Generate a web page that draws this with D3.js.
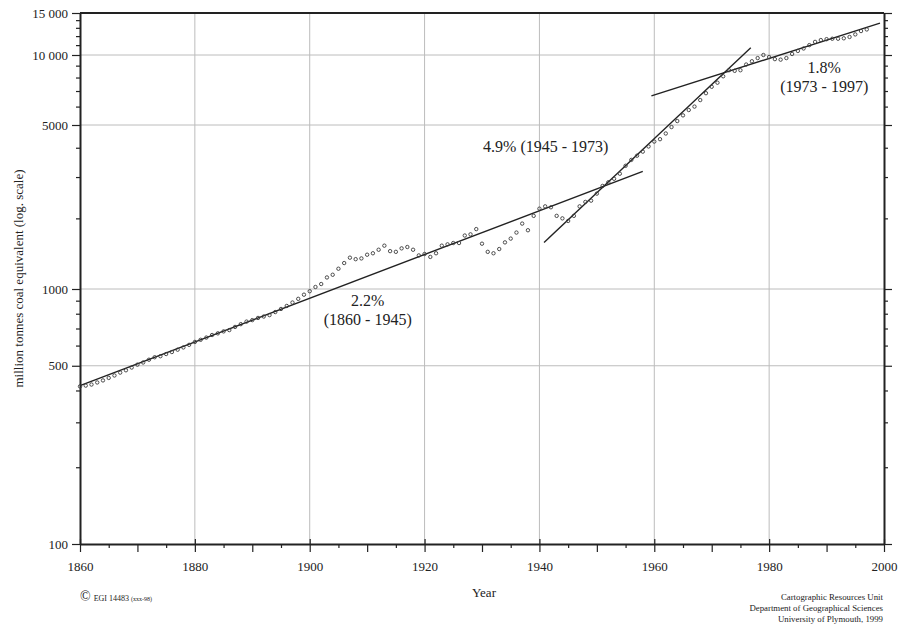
<!DOCTYPE html>
<html>
<head>
<meta charset="utf-8">
<script src="https://cdn.jsdelivr.net/npm/d3@7"></script>
<style>
  body { margin: 0; background: #fff; }
  svg { display: block; font-family: "Liberation Serif", "Times New Roman", serif; }
</style>
</head>
<body>
<svg id="chart" width="901" height="628"></svg>
<script>
// World energy consumption, million tonnes coal equivalent
const years = [
  1860, 1861, 1862, 1863, 1864, 1865, 1866, 1867, 1868, 1869,
  1870, 1871, 1872, 1873, 1874, 1875, 1876, 1877, 1878, 1879,
  1880, 1881, 1882, 1883, 1884, 1885, 1886, 1887, 1888, 1889,
  1890, 1891, 1892, 1893, 1894, 1895, 1896, 1897, 1898, 1899,
  1900, 1901, 1902, 1903, 1904, 1905, 1906, 1907, 1908, 1909,
  1910, 1911, 1912, 1913, 1914, 1915, 1916, 1917, 1918, 1919,
  1920, 1921, 1922, 1923, 1924, 1925, 1926, 1927, 1928, 1929,
  1930, 1931, 1932, 1933, 1934, 1935, 1936, 1937, 1938, 1939,
  1940, 1941, 1942, 1943, 1944, 1945, 1946, 1947, 1948, 1949,
  1950, 1951, 1952, 1953, 1954, 1955, 1956, 1957, 1958, 1959,
  1960, 1961, 1962, 1963, 1964, 1965, 1966, 1967, 1968, 1969,
  1970, 1971, 1972, 1973, 1974, 1975, 1976, 1977, 1978, 1979,
  1980, 1981, 1982, 1983, 1984, 1985, 1986, 1987, 1988, 1989,
  1990, 1991, 1992, 1993, 1994, 1995, 1996, 1997
];
const consumption = [
  415, 418, 422, 430, 438, 448, 458, 470, 480, 492,
  505, 515, 528, 540, 545, 556, 566, 578, 590, 604,
  620, 632, 645, 660, 670, 682, 690, 710, 728, 745,
  755, 770, 780, 790, 812, 835, 858, 885, 915, 950,
  980, 1020, 1050, 1120, 1150, 1220, 1290, 1360, 1340, 1350,
  1400, 1420, 1470, 1530, 1450, 1440, 1490, 1510, 1470, 1390,
  1410, 1370, 1420, 1530, 1550, 1570, 1570, 1690, 1710, 1800,
  1560, 1440, 1420, 1480, 1580, 1640, 1740, 1900, 1780, 2050,
  2200, 2250, 2230, 2050, 2000, 1950, 2050, 2250, 2350, 2380,
  2550, 2750, 2850, 2950, 3100, 3350, 3550, 3700, 3850, 4050,
  4250, 4350, 4600, 4900, 5200, 5500, 5800, 6000, 6400, 6850,
  7300, 7600, 8100, 8600, 8550, 8600, 9100, 9400, 9700, 10000,
  9800, 9600, 9550, 9700, 10100, 10400, 10650, 11000, 11350, 11550,
  11650, 11700, 11700, 11750, 11900, 12200, 12600, 12800
];

// Fitted growth-rate lines: start/end year and value
const trendStartYears  = [1860, 1940.8, 1959.5];
const trendStartValues = [418, 1578, 6670];
const trendEndYears    = [1958, 1976.8, 1999.3];
const trendEndValues   = [3170, 10730, 13600];

// Axis ticks
const xMajorTicks = [1860, 1880, 1900, 1920, 1940, 1960, 1980, 2000];
const xMidTicks   = [1870, 1890, 1910, 1930, 1950, 1970, 1990];
const xMinorTicks = [1865, 1875, 1885, 1895, 1905, 1915, 1925, 1935, 1945, 1955, 1965, 1975, 1985, 1995];
const xGridYears  = [1880, 1900, 1920, 1940, 1960, 1980];
const yMajorTicks = [100, 500, 1000, 5000, 10000, 15000];
const yTickLabels = ["100", "500", "1000", "5000", "10 000", "15 000"];
const yMinorTicks = [200, 300, 400, 600, 700, 800, 900,
                     2000, 3000, 4000, 6000, 7000, 8000, 9000,
                     11000, 12000, 13000, 14000];
const yGridValues = [500, 1000, 5000, 10000];

const svg = d3.select("#chart");
const ink = "#222";

const x = d3.scaleLinear().domain([1860, 2000]).range([80, 884]);
const y = d3.scaleLog()
  .domain([100, 1000, 5000, 10000, 15000])
  .range([544, 289, 125, 55, 13]);

// grid
const grid = svg.append("g").attr("stroke", "#bcbcbc").attr("stroke-width", 1);
grid.selectAll("line.v").data(xGridYears).join("line").attr("class", "v")
  .attr("x1", d => x(d)).attr("x2", d => x(d))
  .attr("y1", y(15000)).attr("y2", y(100));
grid.selectAll("line.h").data(yGridValues).join("line").attr("class", "h")
  .attr("x1", x(1860)).attr("x2", x(2000))
  .attr("y1", d => y(d)).attr("y2", d => y(d));

function styleAxis(g, width) {
  g.select(".domain").attr("stroke", ink).attr("stroke-width", width);
  g.selectAll(".tick line").attr("stroke", ink).attr("stroke-width", 1.2);
  g.selectAll(".tick text").attr("fill", ink);
}

// left axis
const left = svg.append("g").attr("transform", `translate(${x(1860)},0)`)
  .call(d3.axisLeft(y).tickValues(yMajorTicks).tickFormat((d, i) => yTickLabels[i])
    .tickSize(8).tickPadding(4).tickSizeOuter(0))
  .attr("font-family", null).attr("font-size", 13);
styleAxis(left, 2);
svg.append("g").attr("transform", `translate(${x(1860)},0)`)
  .call(d3.axisLeft(y).tickValues(yMinorTicks).tickFormat("").tickSize(4).tickSizeOuter(0))
  .call(g => { g.select(".domain").remove(); styleAxis(g, 1); });

// right axis
const right = svg.append("g").attr("transform", `translate(${x(2000)},0)`)
  .call(d3.axisRight(y).tickValues(yMajorTicks).tickFormat("").tickSize(8).tickSizeOuter(0));
styleAxis(right, 2);
svg.append("g").attr("transform", `translate(${x(2000)},0)`)
  .call(d3.axisRight(y).tickValues(yMinorTicks).tickFormat("").tickSize(4).tickSizeOuter(0))
  .call(g => { g.select(".domain").remove(); styleAxis(g, 1); });

// top border
svg.append("line")
  .attr("x1", x(1860)).attr("x2", x(2000))
  .attr("y1", y(15000)).attr("y2", y(15000))
  .attr("stroke", ink).attr("stroke-width", 2.2);

// bottom axis
const bottom = svg.append("g").attr("transform", `translate(0,${y(100)})`)
  .call(d3.axisBottom(x).tickValues(xMajorTicks).tickFormat(d3.format("d"))
    .tickSize(8).tickPadding(10).tickSizeOuter(0))
  .attr("font-family", null).attr("font-size", 13);
styleAxis(bottom, 2);
bottom.selectAll(".tick line").attr("y1", -5);
svg.append("g").attr("transform", `translate(0,${y(100)})`)
  .call(d3.axisBottom(x).tickValues(xMidTicks).tickFormat("").tickSize(8).tickSizeOuter(0))
  .call(g => { g.select(".domain").remove(); styleAxis(g, 1); });
svg.append("g").attr("transform", `translate(0,${y(100)})`)
  .call(d3.axisBottom(x).tickValues(xMinorTicks).tickFormat("").tickSize(4).tickSizeOuter(0))
  .call(g => { g.select(".domain").remove(); styleAxis(g, 1); });

// trend lines
svg.append("g").selectAll("line").data(trendStartYears).join("line")
  .attr("x1", (d, i) => x(trendStartYears[i]))
  .attr("y1", (d, i) => y(trendStartValues[i]))
  .attr("x2", (d, i) => x(trendEndYears[i]))
  .attr("y2", (d, i) => y(trendEndValues[i]))
  .attr("stroke", ink).attr("stroke-width", 1.4);

// annual data points
svg.append("g").selectAll("circle").data(years).join("circle")
  .attr("cx", (d) => x(d))
  .attr("cy", (d, i) => y(consumption[i]))
  .attr("r", 1.7)
  .attr("fill", "none").attr("stroke", "#3a3a3a").attr("stroke-width", 0.9);

// growth-rate annotations
const note = (tx, ty, str) => svg.append("text")
  .attr("x", tx).attr("y", ty).attr("text-anchor", "middle")
  .attr("dominant-baseline", "central")
  .attr("font-size", 16).attr("fill", ink).text(str);
note(x(1910.1), y(905), "2.2%");
note(x(1910.1), y(760), "(1860 - 1945)");
note(x(1941.1), y(4042), "4.9% (1945 - 1973)");
note(x(1989.6), y(8850), "1.8%");
note(x(1989.6), y(7300), "(1973 - 1997)");

// axis titles
svg.append("text")
  .attr("transform", `translate(18,${(y(100) + y(15000)) / 2})rotate(-90)`)
  .attr("text-anchor", "middle").attr("dominant-baseline", "central")
  .attr("font-size", 13).attr("fill", ink)
  .text("million tonnes coal equivalent (log. scale)");
svg.append("text")
  .attr("x", 484).attr("y", 597).attr("text-anchor", "middle")
  .attr("font-size", 13).attr("fill", ink).text("Year");

// source and credits
const src = svg.append("text").attr("x", 80).attr("y", 601).attr("fill", ink);
src.append("tspan").attr("font-size", 14).text("©");
src.append("tspan").attr("font-size", 8).attr("dx", 3).text("EGI 14483");
src.append("tspan").attr("font-size", 6).attr("dx", 2).text("(xxx-98)");

const credits = ["Cartographic Resources Unit",
                 "Department of Geographical Sciences",
                 "University of Plymouth, 1999"];
svg.append("g").selectAll("text").data(credits).join("text")
  .attr("x", 883).attr("y", (d, i) => 600 + i * 10.8)
  .attr("text-anchor", "end").attr("font-size", 8.8).attr("fill", ink)
  .text(d => d);
</script>
</body>
</html>
